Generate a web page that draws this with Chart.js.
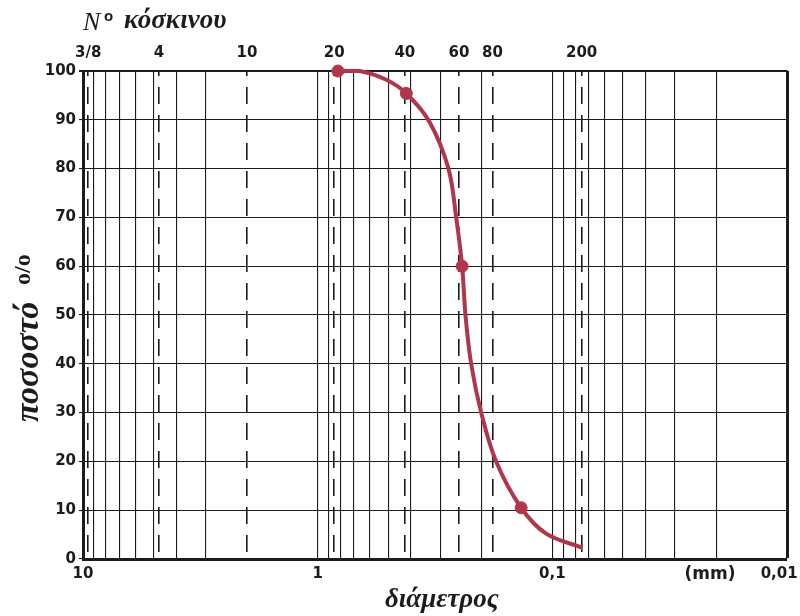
<!DOCTYPE html>
<html>
<head>
<meta charset="utf-8">
<title>Κοκκομετρική καμπύλη</title>
<script src="https://cdn.jsdelivr.net/npm/chart.js@4.4.1/dist/chart.umd.min.js"></script>
<style>
    body { margin: 0; background: #fff; }
    #graph { display: block; }
</style>
</head>
<body>
<canvas id="graph" width="800" height="616"></canvas>
<script>
// bottom axis: diameter in mm (log scale, large to small)
const diameterTicks = [10, 9, 8, 7, 6, 5, 4, 3, 2, 1, 0.9, 0.8, 0.7, 0.6, 0.5, 0.4, 0.3, 0.2,
                       0.1, 0.09, 0.08, 0.07, 0.06, 0.05, 0.04, 0.03, 0.02, 0.01];
const labeledDiameters = [10, 1, 0.1, 0.01];
// trailing spaces pull the last label back inside the page
const diameterLabels = ["10", "1", "0,1", "0,01   "];
// grid lines hidden because a sieve line sits there
const hiddenDiameters = [2];

// top axis: sieve numbers and their openings (mm)
const sieveLabels = ["3/8", "4", "10", "20", "40", "60", "80", "200"];
const sieveSizes = [9.5, 4.75, 2.0, 0.85, 0.425, 0.25, 0.18, 0.075];

const percentTicks = [0, 10, 20, 30, 40, 50, 60, 70, 80, 90, 100];

// grading curve
const curveDiameters = [0.82, 0.663, 0.51, 0.419, 0.334, 0.2771, 0.2569, 0.2423, 0.2345,
                        0.2218, 0.201, 0.1736, 0.1358, 0.1063, 0.0743];
const curvePercents = [100, 100, 98.2, 95.4, 89.6, 80, 70, 60, 50,
                       40, 30, 20, 10.5, 5.2, 2.3];

// measured points (dots)
const sampleDiameters = [0.82, 0.419, 0.2423, 0.1358];
const samplePercents = [100, 95.4, 60, 10.5];

const INK = "#1c1c1c";
const RED = "#b0364b";
const tickFont = { family: "DejaVu Sans", weight: "bold", size: 15 };

function pairs(xs, ys) {
    let out = [];
    for (let i = 0; i < xs.length; i++) {
        out.push({ x: xs[i], y: ys[i] });
    }
    return out;
}

// axis titles drawn on the canvas
const titlesPlugin = {
    id: "titles",
    afterDraw(chart) {
        const ctx = chart.ctx;
        ctx.save();
        ctx.fillStyle = INK;
        ctx.textBaseline = "alphabetic";
        ctx.textAlign = "left";

        // Nº κόσκινου
        ctx.font = "italic 26px 'Liberation Serif'";
        ctx.fillText("N", 83, 30);
        ctx.font = "bold 15px 'Liberation Sans'";
        ctx.fillText("o", 104, 21);
        ctx.font = "bold italic 27px 'Liberation Serif'";
        ctx.fillText("κόσκινου", 124, 28);

        // διάμετρος
        ctx.font = "bold italic 27px 'Liberation Serif'";
        ctx.fillText("διάμετρος", 385, 607);

        // (mm)
        ctx.font = "bold 17px 'DejaVu Sans'";
        ctx.textAlign = "center";
        ctx.textBaseline = "middle";
        ctx.fillText("(mm)", 710, 575);

        // ποσοστό ο/ο
        ctx.translate(38, 422);
        ctx.rotate(-Math.PI / 2);
        ctx.textAlign = "left";
        ctx.textBaseline = "alphabetic";
        ctx.font = "bold italic 34px 'Liberation Serif'";
        ctx.fillText("ποσοστό", 0, 0);
        ctx.font = "bold 24px 'Liberation Serif'";
        ctx.fillText("ο/ο", 137, -8);
        ctx.restore();
    }
};

new Chart(document.getElementById("graph"), {
    type: "line",
    data: {
        datasets: [
            {
                label: "curve",
                data: pairs(curveDiameters, curvePercents),
                borderColor: RED,
                borderWidth: 4,
                pointRadius: 0,
                tension: 0.35,
                clip: false,
                xAxisID: "x",
                yAxisID: "y"
            },
            {
                label: "samples",
                data: pairs(sampleDiameters, samplePercents),
                showLine: false,
                pointRadius: 6,
                pointBackgroundColor: RED,
                pointBorderColor: RED,
                clip: false,
                xAxisID: "x",
                yAxisID: "y"
            }
        ]
    },
    options: {
        responsive: false,
        devicePixelRatio: 1,
        animation: false,
        layout: { padding: { left: 0, right: 13, top: 0, bottom: 0 } },
        plugins: {
            legend: { display: false },
            tooltip: { enabled: false }
        },
        scales: {
            x: {
                type: "logarithmic",
                position: "bottom",
                reverse: true,
                min: 0.01,
                max: 10,
                afterBuildTicks: function(scale) {
                    scale.ticks = diameterTicks.map(v => ({ value: v }));
                },
                afterFit: function(scale) {
                    scale.height = 57;
                    scale.paddingLeft = 0;
                    scale.paddingRight = 0;
                },
                ticks: {
                    autoSkip: false,
                    maxRotation: 0,
                    padding: 6,
                    color: INK,
                    font: tickFont,
                    callback: function(value) {
                        let i = labeledDiameters.indexOf(value);
                        return i >= 0 ? diameterLabels[i] : "";
                    }
                },
                grid: {
                    drawTicks: false,
                    color: function(c) {
                        if (c.tick && hiddenDiameters.indexOf(c.tick.value) >= 0) return "rgba(0,0,0,0)";
                        return INK;
                    },
                    lineWidth: function(c) {
                        return c.tick && c.tick.value === 0.01 ? 3 : 1.1;
                    }
                },
                border: { color: INK, width: 3 }
            },
            x2: {
                type: "logarithmic",
                position: "top",
                reverse: true,
                min: 0.01,
                max: 10,
                afterBuildTicks: function(scale) {
                    scale.ticks = sieveSizes.map(v => ({ value: v }));
                },
                afterFit: function(scale) {
                    scale.height = 71;
                    scale.paddingLeft = 0;
                    scale.paddingRight = 0;
                },
                ticks: {
                    autoSkip: false,
                    maxRotation: 0,
                    padding: 9,
                    color: INK,
                    font: tickFont,
                    callback: function(value, index) {
                        return sieveLabels[index];
                    }
                },
                grid: {
                    drawTicks: false,
                    color: INK,
                    lineWidth: 1.6
                },
                border: { color: INK, width: 2, dash: [17, 11], dashOffset: 13 }
            },
            y: {
                type: "linear",
                position: "left",
                min: 0,
                max: 100,
                afterBuildTicks: function(scale) {
                    scale.ticks = percentTicks.map(v => ({ value: v }));
                },
                afterFit: function(scale) {
                    scale.width = 83;
                    scale.paddingTop = 0;
                    scale.paddingBottom = 0;
                },
                ticks: {
                    padding: 3,
                    color: INK,
                    font: tickFont
                },
                grid: {
                    tickLength: 4,
                    tickColor: INK,
                    color: INK,
                    lineWidth: function(c) {
                        return c.tick && c.tick.value === 100 ? 2 : 1.1;
                    }
                },
                border: { color: INK, width: 3 }
            }
        }
    },
    plugins: [titlesPlugin]
});
</script>
</body>
</html>
